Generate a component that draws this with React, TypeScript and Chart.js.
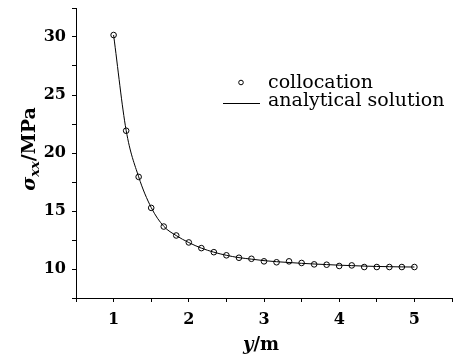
import React, { useEffect, useRef } from 'react';
import { Chart, registerables } from 'chart.js';

Chart.register(...registerables);

// positions y (m) of the collocation points
const yPositions = [
  1.0, 1.167, 1.333, 1.5, 1.667, 1.833, 2.0, 2.167, 2.333, 2.5, 2.667, 2.833, 3.0,
  3.167, 3.333, 3.5, 3.667, 3.833, 4.0, 4.167, 4.333, 4.5, 4.667, 4.833, 5.0,
];
// sigma_xx (MPa) from collocation
const collocation = [
  30.17, 21.92, 17.94, 15.27, 13.66, 12.89, 12.29, 11.8, 11.45, 11.18, 10.97, 10.88, 10.66,
  10.58, 10.66, 10.52, 10.4, 10.37, 10.26, 10.31, 10.17, 10.17, 10.17, 10.17, 10.17,
];
// sigma_xx (MPa) analytical solution
const analytical = [
  30.17, 21.95, 17.95, 15.3, 13.68, 12.88, 12.28, 11.8, 11.45, 11.18, 10.98, 10.85, 10.72,
  10.63, 10.56, 10.49, 10.43, 10.38, 10.33, 10.29, 10.25, 10.22, 10.2, 10.18, 10.17,
];

const xTicks = [0.5, 1, 1.5, 2, 2.5, 3, 3.5, 4, 4.5, 5, 5.5];
const xTickLabels = [1, 2, 3, 4, 5];
const yTicks = [7.5, 10, 12.5, 15, 17.5, 20, 22.5, 25, 27.5, 30, 32.5];
const yTickLabels = [10, 15, 20, 25, 30];

const legendLabels = ['collocation', 'analytical solution'];

const FONT = "'DejaVu Serif', serif";

const decorPlugin = {
  id: 'decor',
  afterDraw(chart: any) {
    const ctx = chart.ctx as CanvasRenderingContext2D;
    ctx.save();
    ctx.fillStyle = '#000';
    ctx.strokeStyle = '#000';

    // legend
    ctx.lineWidth = 1;
    ctx.beginPath();
    ctx.arc(241, 82.5, 2.3, 0, Math.PI * 2);
    ctx.stroke();
    ctx.beginPath();
    ctx.moveTo(223, 103.5);
    ctx.lineTo(260, 103.5);
    ctx.stroke();
    ctx.font = `19px ${FONT}`;
    ctx.textAlign = 'left';
    ctx.textBaseline = 'alphabetic';
    ctx.fillText(legendLabels[0], 268, 88);
    ctx.fillText(legendLabels[1], 268, 105.5);

    // x title: y/m
    const xParts = [
      { t: 'y', f: `italic bold 18px ${FONT}`, dy: 0 },
      { t: '/m', f: `bold 18px ${FONT}`, dy: 0 },
    ];
    let w = 0;
    xParts.forEach((p) => {
      ctx.font = p.f;
      w += ctx.measureText(p.t).width;
    });
    let x = 261 - w / 2;
    xParts.forEach((p) => {
      ctx.font = p.f;
      ctx.fillText(p.t, x, 350 + p.dy);
      x += ctx.measureText(p.t).width;
    });

    // y title: sigma_xx / MPa
    const yParts = [
      { t: 'σ', f: `italic bold 19px ${FONT}`, dy: 0 },
      { t: 'xx', f: `italic bold 13px ${FONT}`, dy: 4 },
      { t: '/MPa', f: `bold 19px ${FONT}`, dy: 0 },
    ];
    ctx.translate(35, 149);
    ctx.rotate(-Math.PI / 2);
    w = 0;
    yParts.forEach((p) => {
      ctx.font = p.f;
      w += ctx.measureText(p.t).width;
    });
    x = -w / 2;
    yParts.forEach((p) => {
      ctx.font = p.f;
      ctx.fillText(p.t, x, p.dy);
      x += ctx.measureText(p.t).width;
    });
    ctx.restore();
  },
};

export default function App() {
  const ref = useRef<HTMLCanvasElement | null>(null);

  useEffect(() => {
    if (!ref.current) return;
    const chart = new Chart(ref.current, {
      type: 'scatter',
      data: {
        datasets: [
          {
            label: legendLabels[0],
            data: yPositions.map((x, i) => ({ x, y: collocation[i] })),
            showLine: false,
            pointStyle: 'circle',
            pointRadius: 2.8,
            pointBackgroundColor: 'rgba(0,0,0,0)',
            pointBorderColor: '#000',
            pointBorderWidth: 1,
            order: 0,
          },
          {
            label: legendLabels[1],
            data: yPositions.map((x, i) => ({ x, y: analytical[i] })),
            showLine: true,
            borderColor: '#000',
            borderWidth: 1,
            pointRadius: 0,
            cubicInterpolationMode: 'monotone',
            order: 1,
          },
        ],
      },
      options: {
        animation: false,
        responsive: false,
        devicePixelRatio: 1,
        layout: { autoPadding: false, padding: { top: 8, right: 1, left: 0, bottom: 0 } },
        plugins: {
          legend: { display: false },
          tooltip: { enabled: false },
        },
        scales: {
          x: {
            type: 'linear',
            min: 0.5,
            max: 5.5,
            afterBuildTicks: (scale: any) => {
              scale.ticks = xTicks.map((v) => ({ value: v }));
            },
            afterFit: (scale: any) => {
              scale.height = 65;
              scale.paddingLeft = 0;
              scale.paddingRight = 0;
            },
            ticks: {
              autoSkip: false,
              maxRotation: 0,
              padding: 8,
              color: '#000',
              font: { family: FONT, size: 16, weight: 'bold' },
              callback: (v: any) => (xTickLabels.includes(Number(v)) ? String(v) : ''),
            },
            grid: {
              drawOnChartArea: false,
              drawTicks: true,
              tickLength: 4,
              tickColor: '#000',
              color: '#000',
            },
            border: { display: true, color: '#000', width: 1 },
          },
          y: {
            type: 'linear',
            min: 7.5,
            max: 32.5,
            afterBuildTicks: (scale: any) => {
              scale.ticks = yTicks.map((v) => ({ value: v }));
            },
            afterFit: (scale: any) => {
              scale.width = 76;
              scale.paddingTop = 0;
              scale.paddingBottom = 0;
            },
            ticks: {
              autoSkip: false,
              padding: 6,
              color: '#000',
              font: { family: FONT, size: 16, weight: 'bold' },
              callback: (v: any) => (yTickLabels.includes(Number(v)) ? String(v) : ''),
            },
            grid: {
              drawOnChartArea: false,
              drawTicks: true,
              tickLength: 4,
              tickColor: '#000',
              color: '#000',
            },
            border: { display: true, color: '#000', width: 1 },
          },
        },
      },
      plugins: [decorPlugin],
    } as any);
    return () => chart.destroy();
  }, []);

  return (
    <div style={{ position: 'absolute', left: 0, top: 0, width: 453, height: 363, background: '#fff' }}>
      <canvas ref={ref} width={453} height={363} />
    </div>
  );
}
